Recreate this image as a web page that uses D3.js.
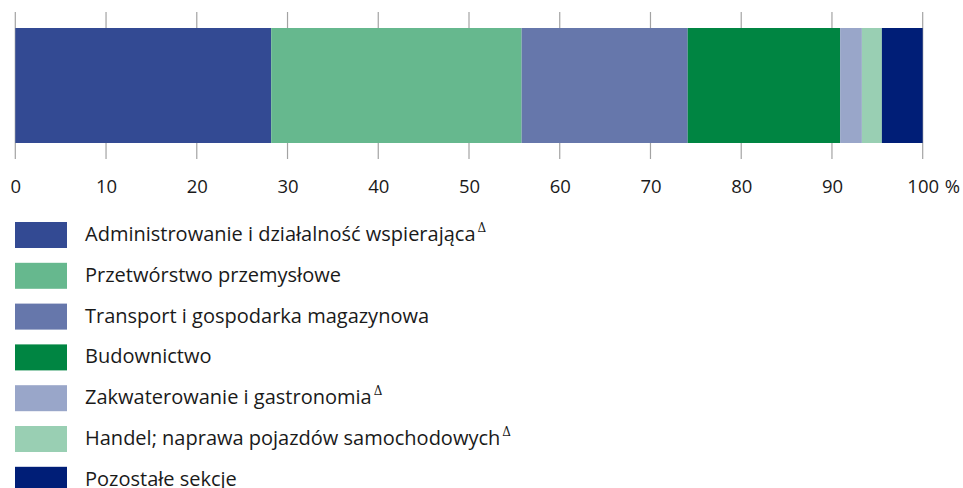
<!DOCTYPE html>
<html>
<head>
<meta charset="utf-8">
<script src="https://cdn.jsdelivr.net/npm/d3@7"></script>
<style>
  body { margin: 0; background: #fff; }
  svg { font-family: "Open Sans", "Noto Sans", sans-serif; }
</style>
</head>
<body>
<div id="chart"></div>
<script>
// dane
var kategorie = [
  "Administrowanie i działalność wspierająca",
  "Przetwórstwo przemysłowe",
  "Transport i gospodarka magazynowa",
  "Budownictwo",
  "Zakwaterowanie i gastronomia",
  "Handel; naprawa pojazdów samochodowych",
  "Pozostałe sekcje"
];
var wartosci = [28.2, 27.6, 18.3, 16.8, 2.4, 2.2, 4.5];
var delta = [true, false, false, false, true, true, false];
var kolory = ["#334a93", "#66b88e", "#6677ab", "#008542", "#99a6c9", "#99cfb3", "#001e77"];
var ticki = [0, 10, 20, 30, 40, 50, 60, 70, 80, 90, 100];

var width = 963, height = 488;
var margin = { left: 15, right: 40 };

var svg = d3.select("#chart").append("svg")
  .attr("width", width)
  .attr("height", height);

var x = d3.scaleLinear()
  .domain([0, 100])
  .range([margin.left + 0.3, width - margin.right - 0.3]);

var y = d3.scaleBand()
  .domain(["bar"])
  .range([28, 143]);

// siatka
svg.append("g")
  .selectAll("line")
  .data(ticki)
  .join("line")
    .attr("x1", d => x(d))
    .attr("x2", d => x(d))
    .attr("y1", 12)
    .attr("y2", 159)
    .attr("stroke", "#a3a3a3")
    .attr("stroke-width", 1.2);

// skumulowane
var start = 0;
var segmenty = wartosci.map(function (v, i) {
  var s = { x0: start, x1: start + v, color: kolory[i] };
  start += v;
  return s;
});

svg.append("g")
  .selectAll("rect")
  .data(segmenty)
  .join("rect")
    .attr("x", d => x(d.x0))
    .attr("y", y("bar"))
    .attr("width", d => x(d.x1) - x(d.x0))
    .attr("height", y.bandwidth())
    .attr("fill", d => d.color);

// os
var axis = svg.append("g")
  .attr("transform", "translate(0,170)")
  .call(d3.axisBottom(x).tickValues(ticki).tickSize(0).tickPadding(10).tickFormat(d3.format("d")));
axis.select(".domain").remove();
axis.selectAll("text")
  .attr("font-size", "18.5px")
  .attr("fill", "#1a1a1a")
  .attr("font-family", "\"Open Sans\", sans-serif");
svg.append("text")
  .attr("x", x(100) + 22)
  .attr("y", 193)
  .style("font-size", "18.5px")
  .attr("fill", "#1a1a1a")
  .text("%");

// legenda
var leg = svg.append("g")
  .selectAll("g")
  .data(kategorie)
  .join("g")
    .attr("transform", (d, i) => "translate(15," + (222 + i * 40.8) + ")");

leg.append("rect")
  .attr("width", 52)
  .attr("height", 26)
  .attr("fill", (d, i) => kolory[i]);

var t = leg.append("text")
  .attr("x", 70)
  .attr("y", 19)
  .attr("font-size", "20px")
  .attr("fill", "#1a1a1a");
t.append("tspan").text(d => d);
t.filter((d, i) => delta[i])
  .append("tspan")
  .attr("dx", 2)
  .attr("dy", -9)
  .attr("font-size", "12px")
  .attr("font-family", "\"DejaVu Serif\", serif")
  .text("Δ");
</script>
</body>
</html>
